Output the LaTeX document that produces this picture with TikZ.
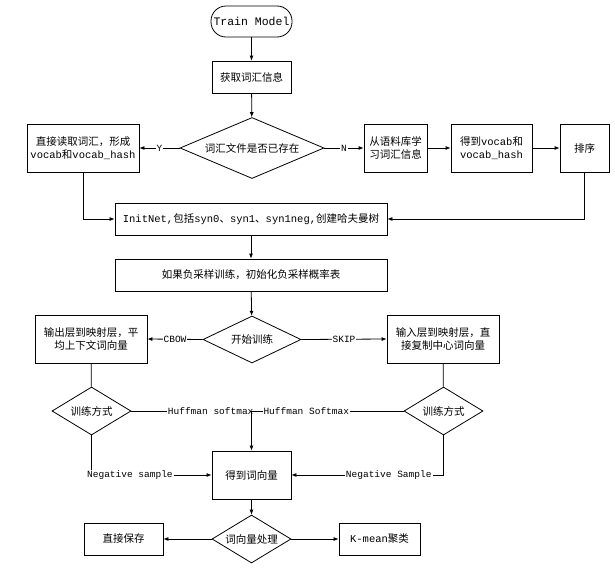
\documentclass[tikz,border=0pt]{standalone}
\usepackage{fontspec}
\setmainfont{Liberation Mono}
\newfontfamily\cjk{Noto Sans CJK SC}
\newcommand{\zh}[1]{{\cjk #1}}
\usetikzlibrary{shapes.geometric,arrows.meta}
\tikzset{
  base/.style={draw, line width=0.8pt, inner sep=0pt, align=center, font=\fontsize{10.5}{13}\selectfont},
  box/.style={base, rectangle},
  term/.style={base, rectangle, rounded corners=15pt},
  decision/.style={base, diamond},
  lbl/.style={fill=white, inner sep=1pt, font=\fontsize{9.5}{11}\selectfont},
  conn/.style={line width=0.8pt},
  arr/.style={conn, -{Latex[length=5pt,width=4pt]}}
}
\begin{document}
\begin{tikzpicture}[x=1pt,y=-1pt]
\useasboundingbox (0,0) rectangle (615,573);
\node[term, minimum width=81pt, minimum height=31pt, font=\fontsize{11.5}{13}\selectfont] (tm) at (251.5,21.5) {Train Model};
\node[box, minimum width=79pt, minimum height=32pt] (getv) at (251.5,77) {\zh{获取词汇信息}};
\node[decision, aspect=2.36, minimum width=144pt, minimum height=61pt] (d1) at (252,148) {\zh{词汇文件是否已存在}};
\node[box, minimum width=112pt, minimum height=48pt] (lb1) at (83,148) {\zh{直接读取词汇，形成}\\vocab\zh{和}vocab\_hash};
\node[box, minimum width=63pt, minimum height=48pt] (learn) at (395.5,148) {\zh{从语料库学}\\\zh{习词汇信息}};
\node[box, minimum width=81pt, minimum height=48pt] (getvh) at (491.5,148) {\zh{得到}vocab\zh{和}\\vocab\_hash};
\node[box, minimum width=49pt, minimum height=48pt] (sort) at (584.5,148) {\zh{排序}};
\node[box, minimum width=272pt, minimum height=32pt] (init) at (251,219) {InitNet,\zh{包括}syn0\zh{、}syn1\zh{、}syn1neg,\zh{创建哈夫曼树}};
\node[box, minimum width=272pt, minimum height=32pt] (neg) at (251,275) {\zh{如果负采样训练，初始化负采样概率表}};
\node[decision, aspect=2.1, minimum width=98pt, minimum height=47pt] (d2) at (252,339.5) {\zh{开始训练}};
\node[box, minimum width=112pt, minimum height=48pt] (outl) at (91,339) {\zh{输出层到映射层，平}\\\zh{均上下文词向量}};
\node[box, minimum width=112pt, minimum height=48pt] (inr) at (443,339) {\zh{输入层到映射层，直}\\\zh{接复制中心词向量}};
\node[decision, aspect=1.65, minimum width=79pt, minimum height=48pt] (d3) at (91.5,411) {\zh{训练方式}};
\node[decision, aspect=1.65, minimum width=79pt, minimum height=48pt] (d4) at (443.5,411) {\zh{训练方式}};
\node[box, minimum width=79pt, minimum height=48pt] (getwv) at (251.5,475) {\zh{得到词向量}};
\node[decision, aspect=1.65, minimum width=79pt, minimum height=48pt] (d5) at (251.5,539) {\zh{词向量处理}};
\node[box, minimum width=79pt, minimum height=32pt] (save) at (123.5,539) {\zh{直接保存}};
\node[box, minimum width=81pt, minimum height=32pt] (kmean) at (379.5,539) {K-mean\zh{聚类}};

\draw[arr] (tm) -- (getv);
\draw[arr] (getv) -- (d1);
\draw[arr] (d1.west) -- node[lbl]{Y} (lb1.east);
\draw[arr] (d1.east) -- node[lbl]{N} (learn.west);
\draw[arr] (learn) -- (getvh);
\draw[arr] (getvh) -- (sort);
\draw[arr] (lb1.south) |- (init.west);
\draw[arr] (sort.south) |- (init.east);
\draw[arr] (init) -- (neg);
\draw[arr] (neg) -- (d2);
\draw[arr] (d2.west) -- node[lbl]{CBOW} (outl.east);
\draw[arr] (d2.east) -- node[lbl]{SKIP} (inr.west);
\draw[conn] (outl) -- (d3);
\draw[conn] (inr) -- (d4);
\draw[conn] (d3.east) -- node[lbl, pos=0.66]{Huffman softmax} (getwv.north |- d3.east);
\draw[arr] (d4.west) -- node[lbl, pos=0.64]{Huffman Softmax} (getwv.north |- d4.west) -- (getwv.north);
\draw[arr] (d3.south) |- node[lbl, pos=0.66]{Negative sample} (getwv.west);
\draw[arr] (d4.south) |- node[lbl, pos=0.68]{Negative Sample} (getwv.east);
\draw[arr] (getwv) -- (d5);
\draw[arr] (d5.west) -- (save.east);
\draw[arr] (d5.east) -- (kmean.west);
\end{tikzpicture}
\end{document}
